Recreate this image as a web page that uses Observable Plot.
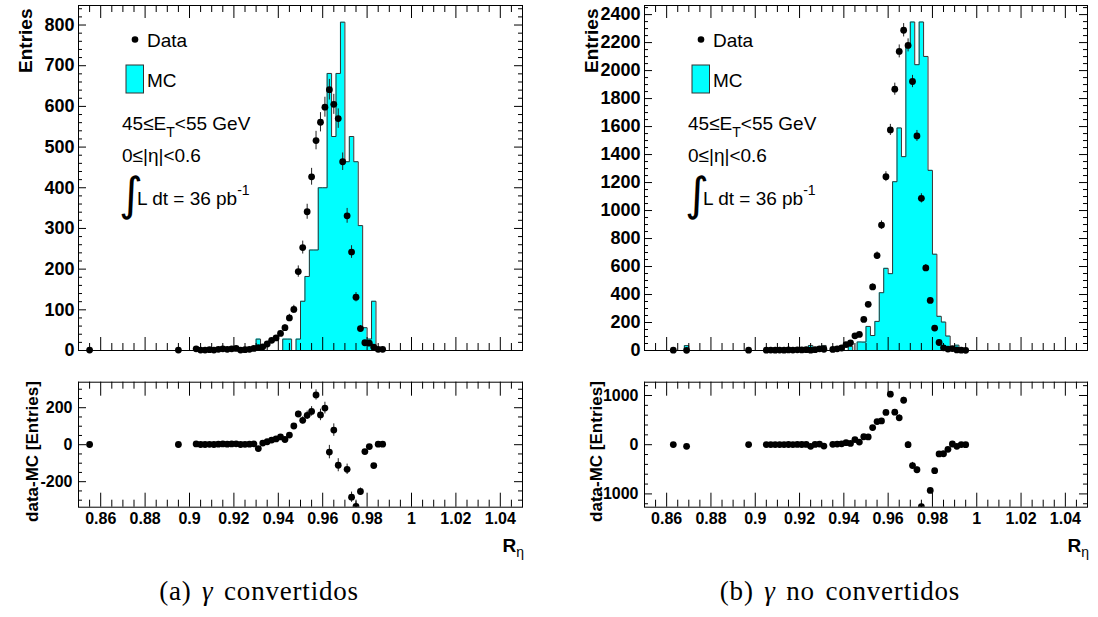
<!DOCTYPE html>
<html><head><meta charset="utf-8">
<script src="https://cdn.jsdelivr.net/npm/d3@7"></script>
<script src="https://cdn.jsdelivr.net/npm/@observablehq/plot@0.6"></script>
<style>
html,body{margin:0;padding:0;background:#fff;}
#root{position:relative;width:1098px;height:617px;overflow:hidden;background:#fff;}
#root svg{position:absolute;}
.cap{position:absolute;font-family:"Liberation Serif","Times New Roman",serif;font-size:27px;letter-spacing:0.8px;word-spacing:3px;white-space:nowrap;transform:translateX(-50%);line-height:1;color:#000;}
</style></head><body><div id="root"></div>
<script>
// ---------- DATA ----------
// (a) converted photons: data (bin centres, entries)
const convDataX = [0.855, 0.895, 0.903, 0.905, 0.907, 0.909, 0.911, 0.913, 0.915, 0.917, 0.919, 0.921, 0.923, 0.925, 0.927, 0.929,
  0.931, 0.933, 0.935, 0.937, 0.939, 0.941, 0.943, 0.945, 0.947,
  0.949, 0.951, 0.953, 0.955, 0.957, 0.959, 0.961, 0.963, 0.965, 0.967, 0.969, 0.971, 0.973, 0.975, 0.977, 0.979, 0.981, 0.983, 0.985, 0.987];
const convData = [1, 1, 4, 1, 1, 2, 1, 3, 4, 3, 4, 5, 1, 2, 3, 5,
  7, 9, 16, 25, 31, 42, 56, 80, 101,
  194, 253, 341, 427, 516, 561, 598, 641, 605, 570, 464, 331, 242, 131, 54, 19, 18, 8, 3, 3];
// (a) MC histogram (non-empty bins)
const convMCX = [0.931, 0.943, 0.945, 0.949, 0.951, 0.953, 0.955, 0.957, 0.959, 0.961, 0.963, 0.965, 0.967, 0.969, 0.971, 0.973, 0.975, 0.977, 0.979, 0.981, 0.983];
const convMC  = [28, 28, 28, 28, 121, 182, 247, 247, 400, 400, 681, 526, 681, 807, 464, 526, 464, 307, 56, 28, 121];

// (b) unconverted photons: data
const unconvDataX = [0.863, 0.869, 0.897,
  0.905, 0.907, 0.909, 0.911, 0.913, 0.915, 0.917, 0.919, 0.921, 0.923, 0.925, 0.927, 0.929, 0.931,
  0.935, 0.937, 0.939, 0.941, 0.943, 0.945, 0.947, 0.949, 0.951, 0.953, 0.955, 0.957, 0.959, 0.961, 0.963, 0.965,
  0.967, 0.969, 0.971, 0.973, 0.975, 0.977, 0.979, 0.981, 0.983, 0.985, 0.987, 0.989, 0.991, 0.993, 0.995];
const unconvData = [2, 1, 2,
  2, 3, 2, 3, 2, 4, 3, 5, 4, 6, 2, 6, 12, 9,
  8, 12, 18, 42, 55, 105, 115, 222, 330, 454, 678, 896, 1242, 1576, 1867, 2137,
  2288, 2180, 1922, 1533, 1087, 590, 358, 160, 57, 19, 10, 14, 4, 2, 1];
// (b) MC histogram (non-empty bins)
const unconvMCX = [0.869, 0.925, 0.931, 0.943, 0.947, 0.949, 0.951, 0.953, 0.955, 0.957, 0.959, 0.961, 0.963, 0.965, 0.967, 0.969, 0.971, 0.973, 0.975, 0.977, 0.979, 0.981, 0.983, 0.985, 0.987, 0.991];
const unconvMC  = [35, 36, 36, 29, 61, 60, 172, 107, 208, 413, 587, 549, 1206, 1590, 1385, 2180, 2347, 2042, 2347, 2101, 1287, 688, 244, 203, 103, 38];

// axis ticks and labels
const xTickValues = [0.86, 0.88, 0.90, 0.92, 0.94, 0.96, 0.98, 1.00, 1.02, 1.04];
const xTickLabels = ["0.86", "0.88", "0.9", "0.92", "0.94", "0.96", "0.98", "1", "1.02", "1.04"];
const convYTicks = [0, 100, 200, 300, 400, 500, 600, 700, 800];
const unconvYTicks = [0, 200, 400, 600, 800, 1000, 1200, 1400, 1600, 1800, 2000, 2200, 2400];
const convResTicks = [-200, 0, 200];
const unconvResTicks = [-1000, 0, 1000];
const captions = ["(a) ", "γ", " convertidos", "(b) ", "γ", " no convertidos"];

// ---------- DRAWING ----------
const FONT = "'Liberation Sans', Arial, Helvetica, sans-serif";
const CYAN = "#00ffff";
const root = document.getElementById("root");
const key = v => Math.round(v * 1000);

function stepRows(mcX, mcV) {
  const m = new Map(mcX.map((x, i) => [key(x), mcV[i]]));
  const rows = [];
  for (let k = 0; k <= 100; k++) {
    const edge = +(0.85 + k * 0.002).toFixed(3);
    const c = k < 100 ? key(edge + 0.001) : key(edge - 0.001);
    rows.push({edge, v: m.get(c) ?? 0});
  }
  return rows;
}
function minorTicks(lo, hi, step, majors) {
  const out = [];
  for (let v = lo; v <= hi + 1e-9; v += step) {
    const r = +v.toFixed(4);
    if (!majors.some(t => Math.abs(t - r) < 1e-9)) out.push(r);
  }
  return out;
}
function tickMarks(fw, fh, yMajor, yMinor, xl, xs, yl, ys) {
  const xMinor = minorTicks(0.85, 1.05, 0.005, xTickValues);
  return [
    Plot.ruleX(xTickValues, {x: d => d, insetTop: fh - xl, stroke: "black"}),
    Plot.ruleX(xTickValues, {x: d => d, insetBottom: fh - xl, stroke: "black"}),
    Plot.ruleX(xMinor, {x: d => d, insetTop: fh - xs, stroke: "black"}),
    Plot.ruleX(xMinor, {x: d => d, insetBottom: fh - xs, stroke: "black"}),
    Plot.ruleY(yMajor, {y: d => d, insetRight: fw - yl, stroke: "black"}),
    Plot.ruleY(yMajor, {y: d => d, insetLeft: fw - yl, stroke: "black"}),
    Plot.ruleY(yMinor, {y: d => d, insetRight: fw - ys, stroke: "black"}),
    Plot.ruleY(yMinor, {y: d => d, insetLeft: fw - ys, stroke: "black"}),
    Plot.frame({stroke: "black", strokeWidth: 1})
  ];
}

function topPanel(o) {
  const W = 549, H = 370, mt = 5, mb = 20;
  const fw = W - o.ml - o.mr, fh = H - mt - mb;
  const steps = stepRows(o.mcX, o.mcV);
  const pts = o.dataX.map((x, i) => ({x, v: o.dataV[i], e: Math.sqrt(o.dataV[i])}));
  const svg = Plot.plot({
    width: W, height: H, marginLeft: o.ml, marginRight: o.mr, marginTop: mt, marginBottom: mb,
    x: {domain: [0.85, 1.05], axis: null},
    y: {domain: [0, o.yMax], axis: null},
    style: {fontFamily: FONT, background: "transparent", color: "black"},
    marks: [
      Plot.areaY(steps, {x: "edge", y: "v", curve: "step-after", fill: CYAN}),
      Plot.lineY(steps, {x: "edge", y: "v", curve: "step-after", stroke: "#333", strokeWidth: 1}),
      Plot.ruleX(pts, {x: "x", y1: d => d.v - d.e, y2: d => d.v + d.e, stroke: "#222", strokeWidth: 1}),
      Plot.dot(pts, {x: "x", y: "v", r: 3.4, fill: "black", stroke: "none"}),
      ...tickMarks(fw, fh, o.yTicks, minorTicks(0, o.yMax, o.yMinor, o.yTicks), 13, 7, 8, 4),
      Plot.text(o.yTicks, {y: d => d, text: d => String(d), frameAnchor: "left", textAnchor: "end", dx: -4, fontSize: 18, fontWeight: "bold", fill: "black"}),
      Plot.text(["Entries"], {text: d => d, frameAnchor: "top-left", rotate: -90, textAnchor: "end", dx: o.titleDx, dy: 3, fontSize: 19, fontWeight: "bold", fill: "black"})
    ]
  });
  svg.style.left = o.left + "px"; svg.style.top = "0px";
  root.appendChild(svg);
  // legend / annotations
  const g = d3.select(svg).append("g").attr("transform", `translate(${o.lx},0)`)
    .attr("font-family", FONT).attr("font-size", 19).attr("fill", "black").attr("text-anchor", "start");
  g.append("circle").attr("cx", 135).attr("cy", 39.5).attr("r", 3.3).attr("fill", "black");
  g.append("text").attr("x", 147).attr("y", 46.5).text("Data");
  g.append("rect").attr("x", 126).attr("y", 65).attr("width", 17.5).attr("height", 28).attr("fill", CYAN).attr("stroke", "#333");
  g.append("text").attr("x", 147).attr("y", 87).text("MC");
  const t1 = g.append("text").attr("x", 122).attr("y", 130);
  t1.append("tspan").text("45≤E");
  t1.append("tspan").attr("font-size", 14).attr("dy", 7).text("T");
  t1.append("tspan").attr("dy", -7).text("<55 GeV");
  g.append("text").attr("x", 122).attr("y", 162).text("0≤|η|<0.6");
  g.append("text").attr("x", 119).attr("y", 210).attr("font-size", 46).attr("font-family", "'DejaVu Sans', sans-serif").text("∫");
  const t3 = g.append("text").attr("x", 137).attr("y", 205);
  t3.append("tspan").text("L dt = 36 pb");
  t3.append("tspan").attr("font-size", 14).attr("dy", -10).text("-1");
}

function bottomPanel(o) {
  const W = 549, H = 200, mt = 21.7, mb = 53.3;
  const fw = W - o.ml - o.mr, fh = H - mt - mb;
  const mc = new Map(o.mcX.map((x, i) => [key(x), o.mcV[i]]));
  const rows = o.dataX.map((x, i) => {
    const m = mc.get(key(x)) ?? 0;
    return {x, r: o.dataV[i] - m, e: Math.sqrt(o.dataV[i] + m)};
  }).filter(d => Math.abs(d.r) <= o.yMax);
  const svg = Plot.plot({
    width: W, height: H, marginLeft: o.ml, marginRight: o.mr, marginTop: mt, marginBottom: mb,
    x: {domain: [0.85, 1.05], axis: null},
    y: {domain: [-o.yMax, o.yMax], axis: null},
    style: {fontFamily: FONT, background: "transparent", color: "black"},
    marks: [
      Plot.ruleX(rows, {x: "x", y1: d => d.r - d.e, y2: d => d.r + d.e, stroke: "#222", strokeWidth: 1, clip: true}),
      Plot.dot(rows, {x: "x", y: "r", r: 3.4, fill: "black", stroke: "none", clip: true}),
      ...tickMarks(fw, fh, o.yTicks, minorTicks(-o.yMinorMax, o.yMinorMax, o.yMinor, o.yTicks), 14, 7, 8, 4),
      Plot.text(o.yTicks, {y: d => d, text: d => String(d), frameAnchor: "left", textAnchor: "end", dx: -6, fontSize: 16, fontWeight: "bold", fill: "black"}),
      Plot.text(xTickValues, {x: d => d, text: (d, i) => xTickLabels[i], frameAnchor: "bottom", lineAnchor: "top", dy: 5, fontSize: 16, fontWeight: "bold", fill: "black"}),
      Plot.text(["data-MC [Entries]"], {text: d => d, frameAnchor: "top-left", rotate: -90, textAnchor: "end", dx: o.titleDx, dy: -1, fontSize: 17, fontWeight: "bold", fill: "black"})
    ]
  });
  svg.style.left = o.left + "px"; svg.style.top = "360px";
  root.appendChild(svg);
  const t = d3.select(svg).append("text").attr("x", W - o.mr + 2).attr("y", 192).attr("text-anchor", "end")
    .attr("font-family", FONT).attr("fill", "black");
  t.append("tspan").attr("font-size", 19).attr("font-weight", "bold").text("R");
  t.append("tspan").attr("font-size", 14).attr("dy", 5).text("η");
}

topPanel({left: 0, ml: 78, mr: 27, dataX: convDataX, dataV: convData, mcX: convMCX, mcV: convMC,
  yMax: 848, yTicks: convYTicks, yMinor: 20, titleDx: -60.5, lx: 0});
topPanel({left: 549, ml: 95, mr: 11, dataX: unconvDataX, dataV: unconvData, mcX: unconvMCX, mcV: unconvMC,
  yMax: 2465, yTicks: unconvYTicks, yMinor: 50, titleDx: -60, lx: 17});
bottomPanel({left: 0, ml: 78, mr: 27, dataX: convDataX, dataV: convData, mcX: convMCX, mcV: convMC,
  yMax: 338, yTicks: convResTicks, yMinor: 50, yMinorMax: 300, titleDx: -53});
bottomPanel({left: 549, ml: 95, mr: 11, dataX: unconvDataX, dataV: unconvData, mcX: unconvMCX, mcV: unconvMC,
  yMax: 1270, yTicks: unconvResTicks, yMinor: 200, yMinorMax: 1200, titleDx: -55});

function caption(cx, parts) {
  const d = document.createElement("div");
  d.className = "cap";
  d.style.left = cx + "px"; d.style.top = "578px";
  d.append(parts[0]);
  const i = document.createElement("i"); i.textContent = parts[1]; d.append(i);
  d.append(parts[2]);
  root.appendChild(d);
}
caption(259, captions.slice(0, 3));
caption(840, captions.slice(3, 6));
</script></body></html>
